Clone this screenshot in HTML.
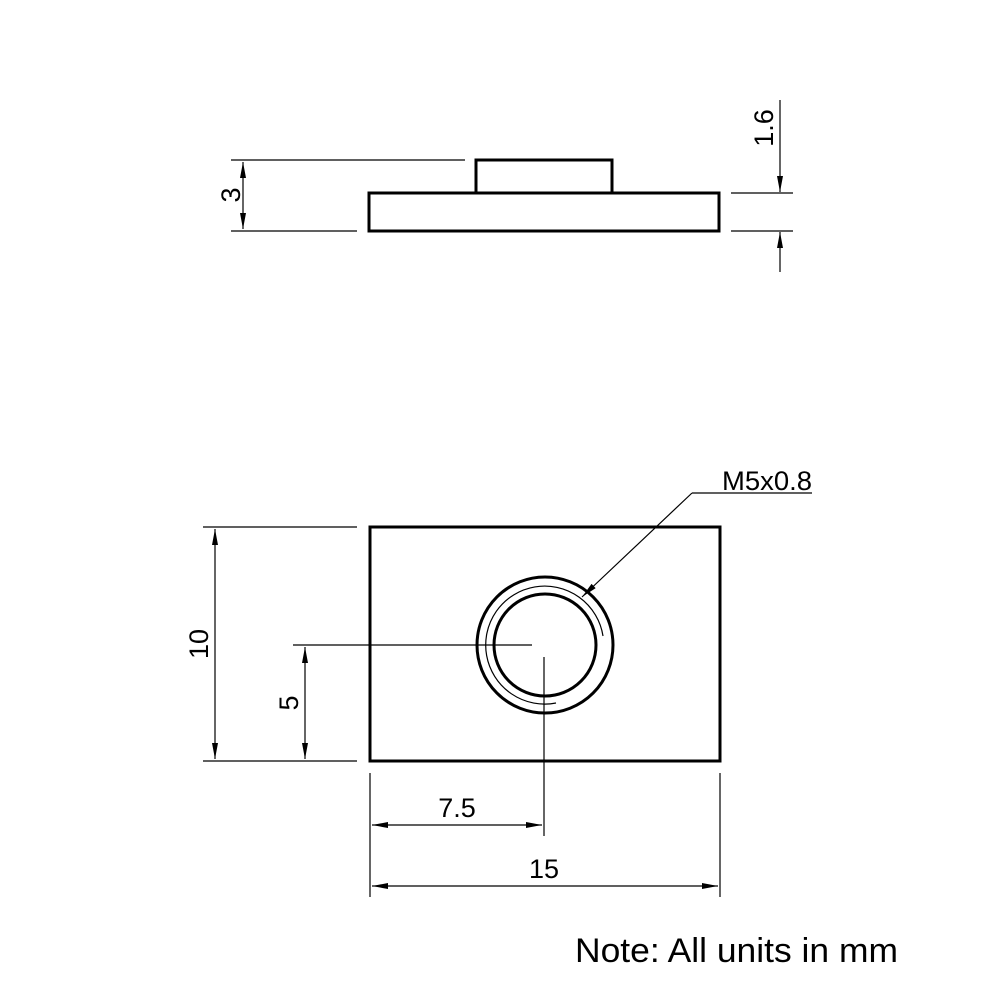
<!DOCTYPE html>
<html><head><style>body{margin:0;background:#fff}svg{display:block}text{font-family:"Liberation Sans",sans-serif;fill:#000}</style></head><body>
<svg width="1000" height="1000" viewBox="0 0 1000 1000" xmlns="http://www.w3.org/2000/svg">
<defs>
<marker id="a" viewBox="0 0 16 6" refX="16" refY="3" markerWidth="16" markerHeight="6" markerUnits="userSpaceOnUse" orient="auto-start-reverse"><path d="M0,0 L16,3 L0,6 Z" fill="#000"/></marker>
</defs>
<g stroke="#000" fill="none">
<rect x="369" y="193" width="350" height="38" stroke-width="3"/>
<rect x="476" y="160" width="136" height="33" stroke-width="3"/>
<g stroke-width="1.2">
<line x1="231" y1="160" x2="465" y2="160"/>
<line x1="231" y1="231" x2="357" y2="231"/>
<line x1="243" y1="162" x2="243" y2="229" marker-start="url(#a)" marker-end="url(#a)"/>
<line x1="731" y1="193" x2="793" y2="193"/>
<line x1="731" y1="231" x2="793" y2="231"/>
<line x1="780" y1="100" x2="780" y2="192" marker-end="url(#a)"/>
<line x1="780" y1="272" x2="780" y2="232" marker-end="url(#a)"/>
</g>
<rect x="370" y="527" width="350" height="234" stroke-width="3"/>
<circle cx="545" cy="645" r="68" stroke-width="3"/>
<circle cx="545" cy="645" r="51" stroke-width="3"/>
<path d="M603,636 A59,59 0 1 0 556,703" stroke-width="1.2"/>
<g stroke-width="1.2">
<line x1="293" y1="645" x2="532" y2="645"/>
<line x1="544" y1="657" x2="544" y2="836"/>
<line x1="692" y1="493" x2="812" y2="493"/>
<line x1="692" y1="493" x2="582" y2="597" marker-end="url(#a)"/>
<line x1="203" y1="527" x2="357" y2="527"/>
<line x1="203" y1="761" x2="357" y2="761"/>
<line x1="215" y1="529" x2="215" y2="759" marker-start="url(#a)" marker-end="url(#a)"/>
<line x1="305" y1="647" x2="305" y2="759" marker-start="url(#a)" marker-end="url(#a)"/>
<line x1="370" y1="773" x2="370" y2="897"/>
<line x1="720" y1="773" x2="720" y2="897"/>
<line x1="372" y1="825" x2="542" y2="825" marker-start="url(#a)" marker-end="url(#a)"/>
<line x1="372" y1="886" x2="718" y2="886" marker-start="url(#a)" marker-end="url(#a)"/>
</g>
</g>
<g font-size="27">
<text transform="translate(240,195) rotate(-90)" text-anchor="middle">3</text>
<text transform="translate(773,128) rotate(-90)" text-anchor="middle">1.6</text>
<text transform="translate(208,644) rotate(-90)" text-anchor="middle">10</text>
<text transform="translate(298,703) rotate(-90)" text-anchor="middle">5</text>
<text x="457" y="817" text-anchor="middle">7.5</text>
<text x="544" y="878" text-anchor="middle">15</text>
<text x="722" y="490" textLength="90" lengthAdjust="spacingAndGlyphs">M5x0.8</text>
</g>
<text x="575" y="962" font-size="34" textLength="323" lengthAdjust="spacingAndGlyphs">Note: All units in mm</text>
</svg>
</body></html>
